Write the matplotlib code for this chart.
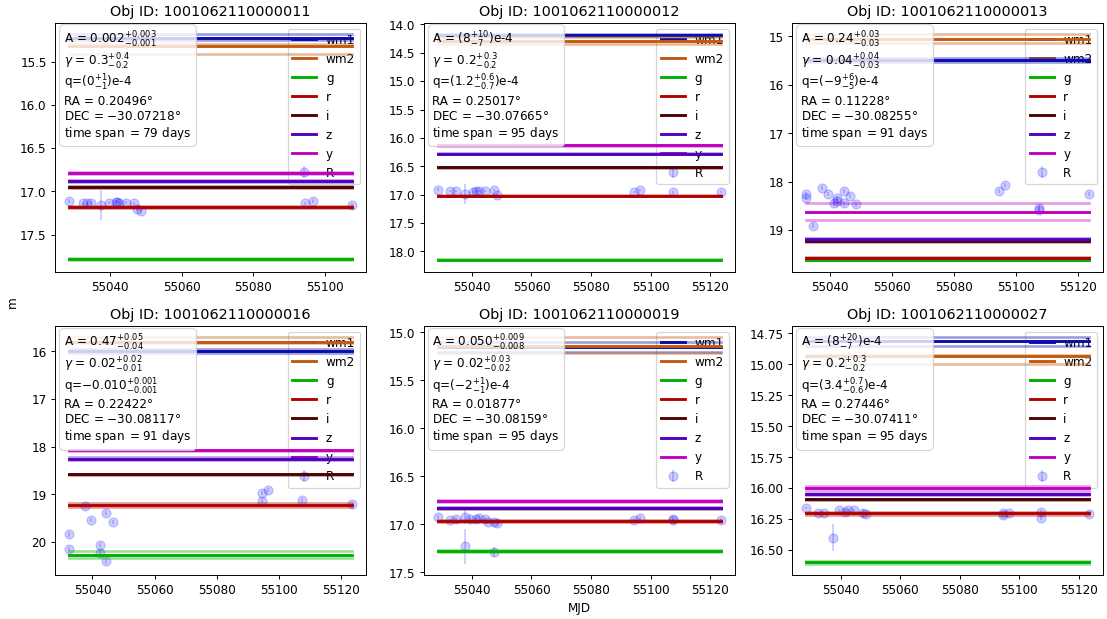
import matplotlib.pyplot as plt
from matplotlib.offsetbox import AnchoredOffsetbox, TextArea, VPacker

# photometric bands and their line colours
BANDS = ['wm1', 'wm2', 'g', 'r', 'i', 'z', 'y']
BAND_COLORS = ['#0a0aad', '#c25a0e', '#00b000', '#b00000', '#500000', '#5000c0', '#c000c0']

OBJ_IDS = ['1001062110000011', '1001062110000012', '1001062110000013',
           '1001062110000016', '1001062110000019', '1001062110000027']

# --- object 11 ---
mjd_11 = [55028.5, 55032.5, 55033.5, 55034.5, 55037.5, 55039.5, 55041.5, 55042.0,
          55042.5, 55044.5, 55046.5, 55047.5, 55048.5, 55094.5, 55096.5, 55107.5]
mag_11 = [17.11, 17.14, 17.14, 17.13, 17.16, 17.13, 17.12, 17.12,
          17.13, 17.13, 17.14, 17.21, 17.23, 17.14, 17.11, 17.16]
err_11 = [0.02, 0.02, 0.02, 0.02, 0.17, 0.02, 0.02, 0.02,
          0.02, 0.02, 0.02, 0.02, 0.02, 0.02, 0.02, 0.02]
model_11 = [15.23, 15.32, 17.78, 17.18, 16.95, 16.88, 16.79]
lo_11 = [15.18, 15.29, 17.77, 17.17, 16.94, 16.87, 16.78]
hi_11 = [15.25, 15.41, 17.80, 17.19, 16.96, 16.89, 16.80]

# --- object 12 ---
mjd_12 = [55028.5, 55032.5, 55034.5, 55037.5, 55040.5, 55041.5, 55042.5,
          55044.5, 55047.5, 55048.5, 55094.5, 55096.5, 55107.5, 55123.5]
mag_12 = [16.91, 16.94, 16.94, 16.99, 16.95, 16.94, 16.93,
          16.94, 16.92, 17.01, 16.95, 16.92, 16.96, 16.95]
err_12 = [0.02, 0.02, 0.02, 0.17, 0.02, 0.02, 0.02,
          0.02, 0.02, 0.02, 0.02, 0.02, 0.03, 0.02]
model_12 = [14.18, 14.29, 18.15, 17.02, 16.52, 16.28, 16.13]
lo_12 = [14.17, 14.22, 18.14, 17.01, 16.51, 16.27, 16.12]
hi_12 = [14.20, 14.34, 18.16, 17.03, 16.53, 16.29, 16.14]

# --- object 13 ---
mjd_13 = [55032.5, 55032.5, 55034.5, 55037.5, 55039.5, 55041.5, 55042.5, 55042.5,
          55044.5, 55044.5, 55046.5, 55048.5, 55094.5, 55096.5, 55107.5, 55107.5, 55123.5]
mag_13 = [18.26, 18.33, 18.91, 18.13, 18.26, 18.45, 18.34, 18.41,
          18.19, 18.45, 18.29, 18.47, 18.19, 18.07, 18.54, 18.58, 18.25]
err_13 = [0.04, 0.04, 0.05, 0.04, 0.04, 0.05, 0.05, 0.05,
          0.04, 0.05, 0.04, 0.05, 0.04, 0.04, 0.06, 0.06, 0.04]
model_13 = [15.48, 15.05, 19.62, 19.57, 19.22, 19.19, 18.62]
lo_13 = [15.44, 14.95, 19.61, 19.56, 19.21, 19.17, 18.45]
hi_13 = [15.52, 15.14, 19.63, 19.58, 19.24, 19.21, 18.79]

# --- object 16 ---
mjd_16 = [55032.5, 55032.5, 55037.5, 55039.5, 55042.5, 55042.5, 55044.5, 55044.5,
          55046.5, 55094.5, 55094.5, 55096.5, 55107.5, 55123.5]
mag_16 = [19.84, 20.15, 19.24, 19.54, 20.07, 20.23, 19.40, 20.41,
          19.58, 18.97, 19.15, 18.92, 19.13, 19.21]
err_16 = [0.05, 0.05, 0.04, 0.04, 0.05, 0.05, 0.04, 0.05,
          0.04, 0.04, 0.04, 0.04, 0.05, 0.03]
model_16 = [15.99, 15.81, 20.28, 19.23, 18.58, 18.27, 18.08]
lo_16 = [15.95, 15.70, 20.20, 19.19, 18.57, 18.22, 18.07]
hi_16 = [16.04, 15.83, 20.34, 19.27, 18.59, 18.29, 18.09]

# --- object 19 ---
mjd_19 = [55028.5, 55032.5, 55034.5, 55037.5, 55037.5, 55039.5, 55041.5, 55042.5,
          55044.5, 55045.5, 55047.5, 55047.5, 55048.5, 55094.5, 55096.5, 55107.5,
          55107.5, 55123.5]
mag_19 = [16.92, 16.96, 16.94, 16.92, 17.23, 16.94, 16.94, 16.93,
          16.94, 16.98, 16.98, 17.29, 16.99, 16.95, 16.93, 16.94,
          16.96, 16.95]
err_19 = [0.02, 0.02, 0.02, 0.08, 0.18, 0.02, 0.02, 0.02,
          0.02, 0.02, 0.02, 0.05, 0.02, 0.02, 0.02, 0.02,
          0.02, 0.02]
model_19 = [15.155, 15.14, 17.28, 16.97, 16.835, 16.825, 16.76]
lo_19 = [15.10, 15.05, 17.27, 16.96, 16.83, 16.82, 16.75]
hi_19 = [15.20, 15.22, 17.29, 16.98, 16.84, 16.83, 16.77]

# --- object 27 ---
mjd_27 = [55028.5, 55032.5, 55034.5, 55037.5, 55039.5, 55041.5, 55042.5, 55044.5,
          55047.5, 55048.5, 55094.5, 55094.5, 55096.5, 55107.5, 55107.5, 55123.5]
mag_27 = [16.16, 16.20, 16.20, 16.40, 16.18, 16.19, 16.18, 16.18,
          16.20, 16.21, 16.20, 16.22, 16.20, 16.19, 16.24, 16.21]
err_27 = [0.01, 0.01, 0.01, 0.11, 0.01, 0.01, 0.01, 0.01,
          0.03, 0.01, 0.01, 0.01, 0.01, 0.01, 0.02, 0.01]
model_27 = [14.81, 14.93, 16.60, 16.20, 16.09, 16.05, 16.00]
lo_27 = [14.78, 14.92, 16.59, 16.19, 16.085, 16.045, 15.98]
hi_27 = [14.85, 15.00, 16.61, 16.22, 16.095, 16.055, 16.02]

# fit summaries shown in each panel
FIT_TEXT = [
    ['A = $0.002^{+0.003}_{-0.001}$', r'$\gamma$ = $0.3^{+0.4}_{-0.2}$',
     'q=$(0^{+1}_{-1})$e-4', 'RA = 0.20496°', 'DEC = $-$30.07218°', 'time span $=$79 days'],
    ['A = $(8^{+10}_{-7})$e-4', r'$\gamma$ = $0.2^{+0.3}_{-0.2}$',
     'q=$(1.2^{+0.6}_{-0.7})$e-4', 'RA = 0.25017°', 'DEC = $-$30.07665°', 'time span $=$95 days'],
    ['A = $0.24^{+0.03}_{-0.03}$', r'$\gamma$ = $0.04^{+0.04}_{-0.03}$',
     'q=$(-9^{+6}_{-5})$e-4', 'RA = 0.11228°', 'DEC = $-$30.08255°', 'time span $=$91 days'],
    ['A = $0.47^{+0.05}_{-0.04}$', r'$\gamma$ = $0.02^{+0.02}_{-0.01}$',
     'q=$-0.010^{+0.001}_{-0.001}$', 'RA = 0.22422°', 'DEC = $-$30.08117°', 'time span $=$91 days'],
    ['A = $0.050^{+0.009}_{-0.008}$', r'$\gamma$ = $0.02^{+0.03}_{-0.02}$',
     'q=$(-2^{+1}_{-1})$e-4', 'RA = 0.01877°', 'DEC = $-$30.08159°', 'time span $=$95 days'],
    ['A = $(8^{+20}_{-7})$e-4', r'$\gamma$ = $0.2^{+0.3}_{-0.2}$',
     'q=$(3.4^{+0.7}_{-0.6})$e-4', 'RA = 0.27446°', 'DEC = $-$30.07411°', 'time span $=$95 days'],
]

OBJECTS = [
    (mjd_11, mag_11, err_11, model_11, lo_11, hi_11),
    (mjd_12, mag_12, err_12, model_12, lo_12, hi_12),
    (mjd_13, mag_13, err_13, model_13, lo_13, hi_13),
    (mjd_16, mag_16, err_16, model_16, lo_16, hi_16),
    (mjd_19, mag_19, err_19, model_19, lo_19, hi_19),
    (mjd_27, mag_27, err_27, model_27, lo_27, hi_27),
]


def add_fit_box(ax, text_lines):
    """Stack the fit summary lines in a rounded box at the upper left."""
    rows = [TextArea(s) for s in text_lines]
    pack = VPacker(children=rows, align='left', pad=0, sep=1.5)
    box = AnchoredOffsetbox(loc='upper left', child=pack, pad=0.4, borderpad=0,
                            bbox_to_anchor=(0.013, 0.993), bbox_transform=ax.transAxes,
                            frameon=True)
    box.patch.set_boxstyle('round,pad=0,rounding_size=0.4')
    box.patch.set_facecolor('white')
    box.patch.set_edgecolor('0.8')
    box.patch.set_alpha(0.8)
    box.set_zorder(10)
    ax.add_artist(box)


def plot_object(ax, obj_id, data, text_lines):
    mjd, mag, err, model, lo, hi = data
    t0, t1 = min(mjd), max(mjd)
    for band, color, m, m_lo, m_hi in zip(BANDS, BAND_COLORS, model, lo, hi):
        # spread of the model magnitudes
        for m_s in (m_lo, m_hi):
            ax.plot([t0, t1], [m_s, m_s], color=color, lw=2.2, alpha=0.4, zorder=6)
        ax.plot([t0, t1], [m, m], color=color, lw=2.4, label=band, zorder=6)
    ax.errorbar(mjd, mag, yerr=err, fmt='o', ms=7.5, color='b', alpha=0.2, label='R')
    ax.invert_yaxis()
    ax.set_title(f'Obj ID: {obj_id}')
    ax.legend(loc='upper right')
    add_fit_box(ax, text_lines)


fig, axes = plt.subplots(2, 3, figsize=(12.8, 7.16), dpi=86.5)
fig.subplots_adjust(left=0.0497, right=0.9964, bottom=0.0711, top=0.9628,
                    wspace=0.185, hspace=0.217)

for ax, obj_id, data, text_lines in zip(axes.flat, OBJ_IDS, OBJECTS, FIT_TEXT):
    plot_object(ax, obj_id, data, text_lines)

axes[1, 1].set_xlabel('MJD')
fig.text(0.011, 0.512, 'm', rotation=90, ha='center', va='center')

fig.savefig('out.png', dpi=86.5)
